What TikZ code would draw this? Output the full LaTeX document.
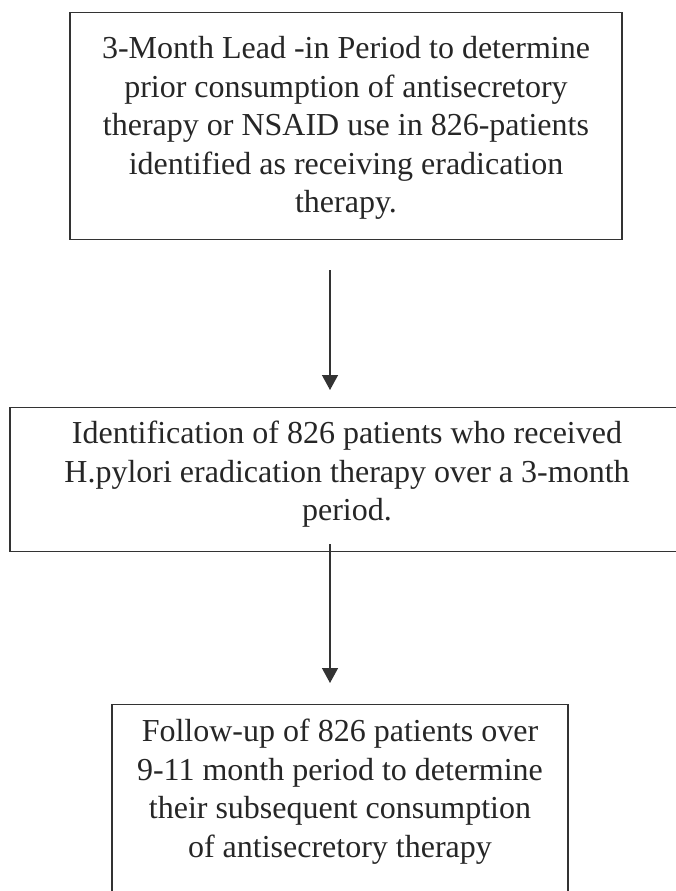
\documentclass[tikz,border=0pt]{standalone}
\usepackage{fontspec}
\setmainfont{Liberation Serif}
\usetikzlibrary{arrows.meta}

\begin{document}
\begin{tikzpicture}
  [x=1pt,y=-1pt
  ,stage/.style={draw=black!80,line width=1.4pt,inner xsep=0pt,inner ysep=0pt
    ,align=center,anchor=north,text=black!85
    ,font={\fontsize{32}{38.5}\selectfont}}
  ,flow/.style={draw=black!80,line width=1.4pt,-{Triangle[width=16pt,length=15pt]}}
  ]

  \useasboundingbox (0,0) rectangle (676,891);

  % lead-in period
  \node[stage,minimum width=552pt,text height=200pt,text depth=27pt] (lead) at (346,12)
    {3-Month Lead -in Period to determine\\
     prior consumption of antisecretory\\
     therapy or NSAID use in 826-patients\\
     identified as receiving eradication\\
     therapy.};

  % identification
  \node[stage,minimum width=674pt,text height=113pt,text depth=31pt] (ident) at (347,407)
    {Identification of 826 patients who received\\
     H.pylori eradication therapy over a 3-month\\
     period.};

  % follow-up
  \node[stage,minimum width=456pt,text height=152.5pt,text depth=48.5pt] (follow) at (340,704)
    {Follow-up of 826 patients over\\
     9-11 month period to determine\\
     their subsequent consumption\\
     of antisecretory therapy};

  % arrows
  \coordinate (axis) at (330,0);
  \draw[flow,shorten <=30pt,shorten >=17pt] (lead.south -| axis) -- (ident.north -| axis);
  \draw[flow,shorten <=-8pt,shorten >=21pt] (ident.south -| axis) -- (follow.north -| axis);

\end{tikzpicture}
\end{document}
